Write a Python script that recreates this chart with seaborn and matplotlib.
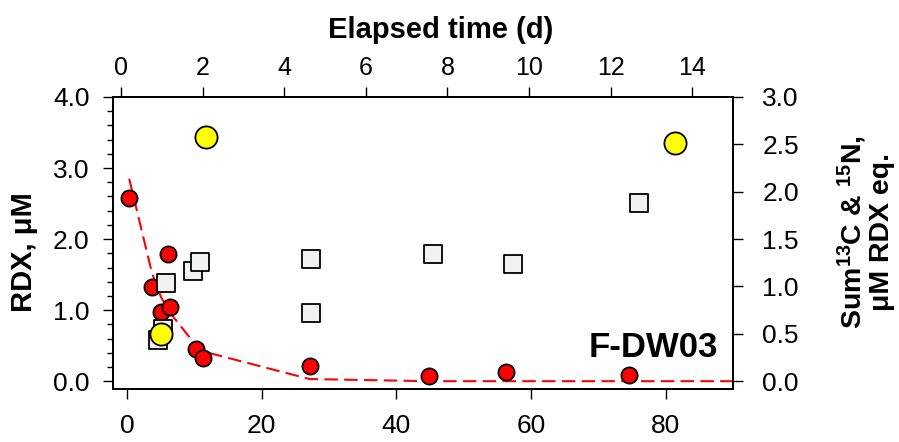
import matplotlib
matplotlib.use("Agg")
import matplotlib.pyplot as plt
from matplotlib.ticker import MultipleLocator, FormatStrFormatter
import seaborn as sns

# ---- data ----
# RDX concentration (left axis) vs bottom-axis time
rdx_time = [0.3, 3.7, 5.05, 6.0, 6.4, 10.25, 11.25, 27.1, 44.9, 56.3, 74.5]
rdx_conc = [2.58, 1.32, 0.97, 1.79, 1.05, 0.46, 0.32, 0.22, 0.07, 0.135, 0.085]

# fitted RDX decay curve (dashed red)
fit_time = [0.3, 3.7, 5.05, 6.0, 6.4, 10.25, 11.25, 27.1, 44.9, 56.3, 74.5, 90.0]
fit_conc = [2.85, 1.52, 1.18, 1.03, 0.96, 0.50, 0.42, 0.03, 0.0, 0.0, 0.0, 0.0]

# Sum 13C & 15N (right axis) - grey squares
sum_time = [4.55, 5.4, 5.8, 9.75, 10.85, 27.3, 27.3, 45.5, 57.3, 76.0]
sum_val = [0.43, 0.55, 1.04, 1.16, 1.26, 1.29, 0.72, 1.34, 1.24, 1.88]

# yellow circles (right axis)
yel_time = [5.0, 11.7, 81.4]
yel_val = [0.50, 2.58, 2.51]

bottom_ticks = [0, 20, 40, 60, 80]
top_ticks = [0, 2, 4, 6, 8, 10, 12, 14]
left_ticks = [0.0, 1.0, 2.0, 3.0, 4.0]
right_ticks = [0.0, 0.5, 1.0, 1.5, 2.0, 2.5, 3.0]

# ---- style ----
sns.set_style("ticks")
plt.rcParams['font.family'] = ['Liberation Sans', 'DejaVu Sans']
plt.rcParams['mathtext.fontset'] = 'custom'
plt.rcParams['mathtext.bf'] = 'Liberation Sans:bold'
plt.rcParams['mathtext.rm'] = 'Liberation Sans:bold'
plt.rcParams['mathtext.default'] = 'bf'
for k in ('text.color', 'axes.labelcolor', 'xtick.color', 'ytick.color', 'axes.edgecolor'):
    plt.rcParams[k] = 'black'

W, H = 899, 442
fig = plt.figure(figsize=(W / 100, H / 100), dpi=100)
ax = fig.add_axes([113 / W, 1 - 389 / H, (733 - 113) / W, (389 - 97) / H])
ax2 = ax.twinx()
ax3 = ax.twiny()

# dashed fit line
sns.lineplot(x=fit_time, y=fit_conc, ax=ax, color='red', lw=1.5, zorder=2)
ax.lines[-1].set_dashes([6.5, 3])

# RDX points
sns.scatterplot(x=rdx_time, y=rdx_conc, ax=ax, color='red', edgecolor='black',
                linewidth=1.3, s=135, zorder=3)

# right-axis data
sns.scatterplot(x=sum_time, y=sum_val, ax=ax2, marker='s', color='#f2f2f2',
                edgecolor='black', linewidth=1.3, s=185, zorder=3)
sns.scatterplot(x=yel_time, y=yel_val, ax=ax2, marker='o', color='#ffff00',
                edgecolor='black', linewidth=1.3, s=255, zorder=4)

# ---- axes ----
ax.set_xlim(-2.1, 90)
ax.set_ylim(-0.11, 4.0)
ax2.set_ylim(-0.0825, 3.0)
ax3.set_xlim(-0.2, 15)

ax.set_xticks(bottom_ticks)
ax.set_yticks(left_ticks)
ax.yaxis.set_major_formatter(FormatStrFormatter('%.1f'))
ax.yaxis.set_minor_locator(MultipleLocator(0.2))
ax2.set_yticks(right_ticks)
ax2.yaxis.set_major_formatter(FormatStrFormatter('%.1f'))
ax3.set_xticks(top_ticks)

for a in (ax, ax2, ax3):
    a.set_xlabel('')
    a.set_ylabel('')
    for sp in a.spines.values():
        sp.set_linewidth(1.2)
        sp.set_color('black')

ax.tick_params(axis='y', which='major', direction='out', length=7, width=1,
               labelsize=19, pad=10, left=True, right=False, colors='black')
ax.tick_params(axis='y', which='minor', direction='out', length=4, width=1,
               left=True, right=False, colors='black')
ax.tick_params(axis='x', which='major', direction='out', length=7, width=1,
               labelsize=19, pad=11, top=False, bottom=True, colors='black')
ax2.tick_params(axis='y', which='major', direction='out', length=7, width=1,
                labelsize=19, pad=14, right=True, colors='black')
ax3.tick_params(axis='x', which='major', direction='out', length=7, width=1,
                labelsize=18, pad=5, top=True, colors='black')

# ---- text ----
fig.text(441 / W, 1 - 38 / H, "Elapsed time (d)", ha='center', va='baseline',
         fontsize=21, fontweight='bold', color='black')
fig.text(24 / W, 1 - 252 / H, "RDX, μM", rotation=90, ha='center', va='center',
         fontsize=21, fontweight='bold', color='black')
fig.text(865 / W, 1 - 232 / H, "Sum$^{13}$C & $^{15}$N,\nμM RDX eq.", rotation=90,
         ha='center', va='center', multialignment='center', fontsize=20.5,
         fontweight='bold', linespacing=1.0, color='black')
fig.text(718 / W, 1 - 357 / H, "F-DW03", ha='right', va='baseline',
         fontsize=25, fontweight='bold', color='black')

fig.savefig('out.png', dpi=100)
